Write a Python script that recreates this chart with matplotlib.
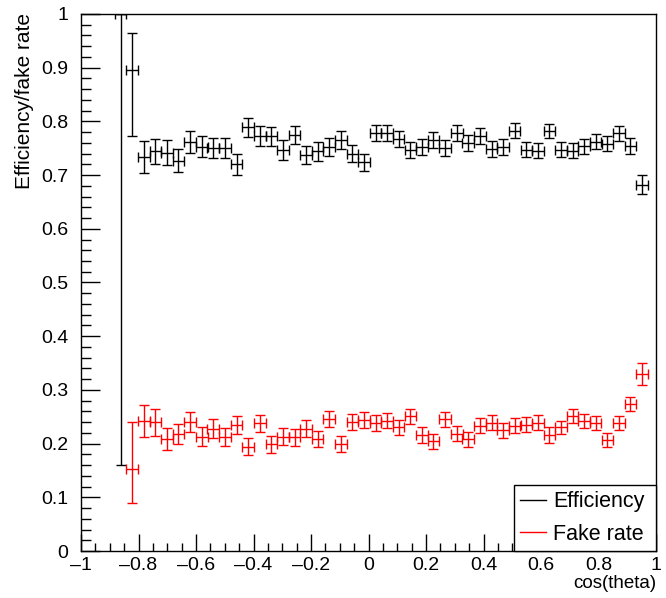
import matplotlib
matplotlib.use('Agg')
import matplotlib.pyplot as plt
from matplotlib.ticker import MultipleLocator
import numpy as np

plt.rcParams['font.family'] = ['Liberation Sans', 'DejaVu Sans']

# bin centres in cos(theta), bin half width
cos_theta = [-0.862, -0.822, -0.781, -0.741, -0.701, -0.661, -0.620, -0.580, -0.540, -0.499,
             -0.459, -0.419, -0.378, -0.338, -0.298, -0.257, -0.217, -0.177, -0.137, -0.096,
             -0.056, -0.016, 0.025, 0.065, 0.105, 0.146, 0.186, 0.226, 0.266, 0.307,
             0.347, 0.387, 0.428, 0.468, 0.508, 0.549, 0.589, 0.629, 0.669, 0.710,
             0.750, 0.790, 0.831, 0.871, 0.911, 0.952]
bin_half = 0.0202

# efficiency per bin (first bin: 1 of 1)
efficiency = [1.000, 0.896, 0.734, 0.744, 0.742, 0.727, 0.762, 0.753, 0.750, 0.750,
              0.720, 0.789, 0.773, 0.772, 0.747, 0.775, 0.737, 0.744, 0.753, 0.765,
              0.740, 0.724, 0.779, 0.778, 0.767, 0.747, 0.753, 0.765, 0.750, 0.778,
              0.760, 0.773, 0.748, 0.753, 0.783, 0.747, 0.745, 0.783, 0.747, 0.745,
              0.754, 0.762, 0.758, 0.778, 0.754, 0.682]
eff_err_lo = [0.840, 0.124, 0.030, 0.024, 0.023, 0.022, 0.020, 0.020, 0.019, 0.019,
              0.019, 0.018, 0.018, 0.018, 0.018, 0.017, 0.017, 0.017, 0.017, 0.017,
              0.016, 0.016, 0.015, 0.015, 0.015, 0.015, 0.015, 0.015, 0.015, 0.015,
              0.015, 0.015, 0.015, 0.015, 0.014, 0.014, 0.014, 0.013, 0.014, 0.014,
              0.014, 0.014, 0.014, 0.014, 0.015, 0.018]
eff_err_hi = [0.000, 0.068, 0.030, 0.024, 0.023, 0.022, 0.020, 0.020, 0.019, 0.019,
              0.019, 0.018, 0.018, 0.018, 0.018, 0.017, 0.017, 0.017, 0.017, 0.017,
              0.016, 0.016, 0.015, 0.015, 0.015, 0.015, 0.015, 0.015, 0.015, 0.015,
              0.015, 0.015, 0.015, 0.015, 0.014, 0.014, 0.014, 0.013, 0.014, 0.014,
              0.014, 0.014, 0.014, 0.014, 0.015, 0.018]

# fake rate per bin (starts at second bin)
fake_x = cos_theta[1:]
fake_rate = [0.152, 0.242, 0.240, 0.209, 0.218, 0.240, 0.213, 0.228, 0.212, 0.235,
             0.194, 0.238, 0.199, 0.213, 0.212, 0.228, 0.208, 0.245, 0.200, 0.241,
             0.244, 0.239, 0.243, 0.230, 0.251, 0.216, 0.204, 0.245, 0.218, 0.208,
             0.233, 0.239, 0.225, 0.233, 0.235, 0.239, 0.216, 0.230, 0.251, 0.242,
             0.239, 0.206, 0.239, 0.274, 0.330]
fake_err_lo = [0.063, 0.029, 0.025, 0.020, 0.019, 0.018, 0.018, 0.018, 0.017, 0.017,
               0.016, 0.016, 0.016, 0.016, 0.016, 0.016, 0.015, 0.015, 0.015, 0.015,
               0.015, 0.015, 0.014, 0.014, 0.014, 0.014, 0.014, 0.014, 0.014, 0.014,
               0.014, 0.014, 0.014, 0.014, 0.014, 0.014, 0.014, 0.013, 0.013, 0.013,
               0.013, 0.013, 0.013, 0.013, 0.021]
fake_err_hi = [0.089, 0.029, 0.025, 0.020, 0.019, 0.018, 0.018, 0.018, 0.017, 0.017,
               0.016, 0.016, 0.016, 0.016, 0.016, 0.016, 0.015, 0.015, 0.015, 0.015,
               0.015, 0.015, 0.014, 0.014, 0.014, 0.014, 0.014, 0.014, 0.014, 0.014,
               0.014, 0.014, 0.014, 0.014, 0.014, 0.014, 0.014, 0.013, 0.013, 0.013,
               0.013, 0.013, 0.013, 0.013, 0.021]

fig = plt.figure(figsize=(6.66, 5.98), dpi=100)
ax = fig.add_axes([81 / 666, 47 / 598, 575 / 666, 537 / 598])

err_style = dict(fmt='none', capsize=3.6, elinewidth=1.0, capthick=1.0)
ax.errorbar(cos_theta, efficiency, yerr=[eff_err_lo, eff_err_hi],
            xerr=bin_half, ecolor='black', **err_style)
ax.errorbar(fake_x, fake_rate, yerr=[fake_err_lo, fake_err_hi],
            xerr=bin_half, ecolor='red', **err_style)

ax.set_xlim(-1, 1)
ax.set_ylim(0, 1)
ax.xaxis.set_major_locator(MultipleLocator(0.2))
ax.xaxis.set_minor_locator(MultipleLocator(0.05))
ax.yaxis.set_major_locator(MultipleLocator(0.1))
ax.yaxis.set_minor_locator(MultipleLocator(0.02))
ax.xaxis.set_major_formatter(plt.FuncFormatter(lambda v, p: ('%g' % round(v, 2)).replace('-', '\u2013')))
ax.yaxis.set_major_formatter(plt.FuncFormatter(lambda v, p: '%g' % round(v, 2)))
ax.tick_params(which='both', direction='in', top=False, right=False, labelsize=14)
ax.tick_params(axis='x', which='major', length=12, width=1, pad=4)
ax.tick_params(axis='x', which='minor', length=6, width=1)
ax.tick_params(axis='y', which='major', length=14, width=1, pad=9)
ax.tick_params(axis='y', which='minor', length=7, width=1)
for s in ax.spines.values():
  s.set_linewidth(1.0)

ax.set_xlabel('cos(theta)', fontsize=13.5, loc='right')
ax.xaxis.set_label_coords(1.0, -0.045)
ax.set_ylabel('Efficiency/fake rate', fontsize=15, loc='top')
ax.yaxis.set_label_coords(-0.082, 1.002)

h_eff, = ax.plot([], [], color='black', lw=1.0)
h_fake, = ax.plot([], [], color='red', lw=1.0)
leg = ax.legend([h_eff, h_fake], ['Efficiency', 'Fake rate'], fontsize=15.5,
                loc='lower right', bbox_to_anchor=(0.753, 0.0, 0.247, 0.125), mode='expand',
                borderaxespad=0, fancybox=False, framealpha=1, edgecolor='black',
                handlelength=1.2, handletextpad=0.33, labelspacing=0.55, borderpad=0.28)
leg.get_frame().set_linewidth(1.0)

fig.savefig('out.png', dpi=100)
